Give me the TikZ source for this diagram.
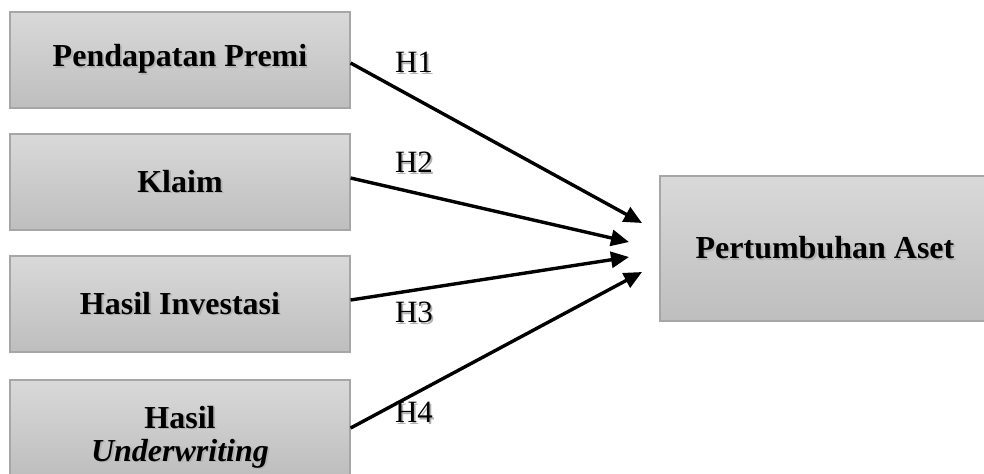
\documentclass[tikz,border=0pt]{standalone}
\usepackage{fontspec}
\setmainfont{Liberation Serif}
\usetikzlibrary{arrows.meta}
\definecolor{boxtop}{HTML}{D9D9D9}
\definecolor{boxbot}{HTML}{BEBEBE}
\definecolor{boxline}{HTML}{A6A6A6}
% text with a soft drop shadow
\newcommand{\shd}[1]{\makebox[0pt][l]{\hspace{0.9pt}\raisebox{-0.9pt}{\textcolor{black!30}{#1}}}#1}
\tikzset{
  varbox/.style={draw=boxline, line width=0.6pt, top color=boxtop, bottom color=boxbot,
    minimum width=170pt, minimum height=48pt, inner sep=0pt, align=center,
    font=\fontsize{16}{16.5}\selectfont\bfseries},
  hyp/.style={inner sep=0pt, font=\fontsize{15.5}{18}\selectfont},
  link/.style={line width=1.7pt, -{Triangle[length=9pt,width=8pt]}}
}
\begin{document}
\begin{tikzpicture}[x=0.5pt,y=-0.5pt]
\useasboundingbox (0,0) rectangle (984,473);
% independent variables
\node[varbox] (pp) at (180,60) {\shd{Pendapatan Premi}};
\node[varbox] (kl) at (180,182) {\shd{Klaim}};
\node[varbox] (hi) at (180,304) {\shd{Hasil Investasi}};
\node[varbox] (hu) at (180,428) {\raisebox{-5pt}[\height][\depth]{\begin{tabular}{@{}c@{}}\shd{Hasil}\\\shd{\textit{Underwriting}}\end{tabular}}};
% dependent variable
\node[varbox, minimum width=165pt, minimum height=72.5pt] (pa) at (825,248.5) {\shd{Pertumbuhan Aset}};
% arrow tips
\coordinate (t1) at (642,223);
\coordinate (t2) at (629,242);
\coordinate (t3) at (629,257);
\coordinate (t4) at (642,272);
\draw[link] ([yshift=-1.5pt]pp.east) -- (t1);
\draw[link] ([yshift=2pt]kl.east) -- (t2);
\draw[link] ([yshift=2pt]hi.east) -- (t3);
\draw[link] (hu.east) -- (t4);
% hypotheses
\node[hyp] (h1) at (414,63) {\shd{H1}};
\node[hyp] (h2) at (414,163) {\shd{H2}};
\node[hyp] (h3) at (414,313) {\shd{H3}};
\node[hyp] (h4) at (414,413) {\shd{H4}};
\end{tikzpicture}
\end{document}
